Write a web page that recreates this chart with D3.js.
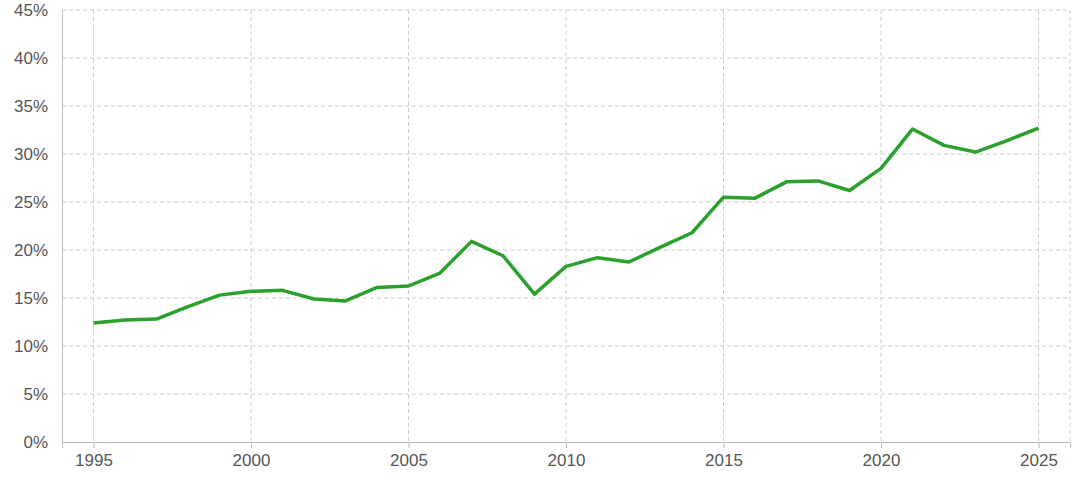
<!DOCTYPE html>
<html>
<head>
<meta charset="utf-8">
<script src="https://cdn.jsdelivr.net/npm/d3@7"></script>
<style>
  body { margin: 0; background: #fff; }
  .tick text { font-family: "Liberation Sans", Arial, sans-serif; font-size: 17px; fill: #555; }
  .grid line { stroke: #ccc; stroke-dasharray: 4 3; }
</style>
</head>
<body>
<div id="container"></div>
<script>
// data
const years = d3.range(1995, 2026);
const values = [12.4, 12.7, 12.8, 14.1, 15.3, 15.7, 15.8, 14.9, 14.7, 16.1,
  16.25, 17.6, 20.9, 19.4, 15.4, 18.3, 19.2, 18.75, 20.3, 21.8,
  25.5, 25.4, 27.1, 27.2, 26.2, 28.5, 32.6, 30.9, 30.2, 31.4, 32.7];
const xTicks = [1995, 2000, 2005, 2010, 2015, 2020, 2025];
const yTicks = [0, 5, 10, 15, 20, 25, 30, 35, 40, 45];

const width = 1080, height = 483;
const mLeft = 62, mRight = 1070, mTop = 10, mBottom = 442;

const svg = d3.select("#container").append("svg")
  .attr("width", width).attr("height", height);

const x = d3.scaleLinear().domain([1994, 2026]).range([mLeft, mRight]);
const y = d3.scaleLinear().domain([0, 45]).range([mBottom, mTop]);

// grid
svg.append("g").attr("class", "grid")
  .selectAll("line").data(yTicks.slice(1)).enter().append("line")
  .attr("x1", mLeft).attr("x2", mRight)
  .attr("y1", d => y(d)).attr("y2", d => y(d));
svg.append("g").attr("class", "grid")
  .selectAll("line").data(xTicks.concat([2026])).enter().append("line")
  .attr("x1", d => x(d)).attr("x2", d => x(d))
  .attr("y1", mTop).attr("y2", mBottom);

// axes
svg.append("g")
  .attr("transform", `translate(0,${mBottom})`)
  .call(d3.axisBottom(x).tickValues(xTicks).tickFormat(d3.format("d")).tickSize(6).tickPadding(6))
  .call(g => g.selectAll("line,path").attr("stroke", "#bbb"));

svg.append("g")
  .attr("transform", `translate(${mLeft},0)`)
  .call(d3.axisLeft(y).tickValues(yTicks).tickFormat(d => d + "%").tickSize(0).tickPadding(14))
  .call(g => g.selectAll("line,path").attr("stroke", "#bbb"));

// line
const line = d3.line().x((d, i) => x(years[i])).y(d => y(d));
svg.append("path")
  .datum(values)
  .attr("fill", "none")
  .attr("stroke", "#2ca02c")
  .attr("stroke-width", 3.5)
  .attr("stroke-linejoin", "round")
  .attr("d", line);
</script>
</body>
</html>
